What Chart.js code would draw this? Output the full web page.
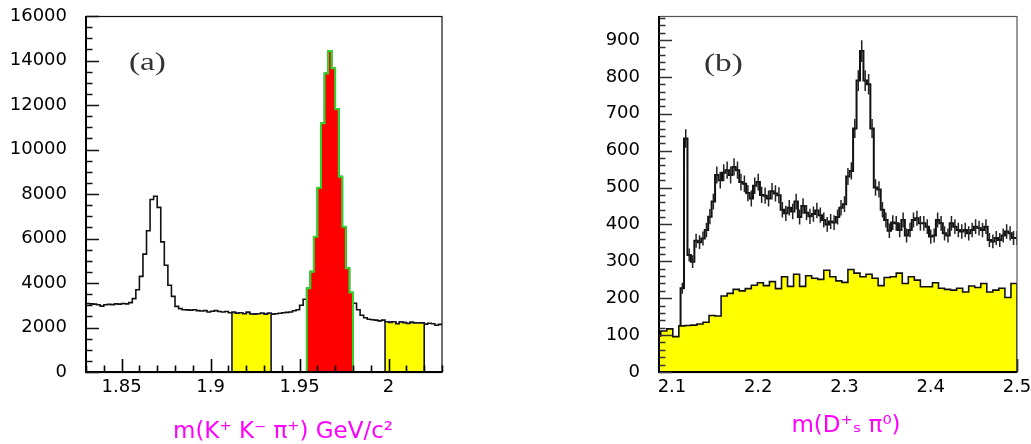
<!DOCTYPE html>
<html>
<head>
<meta charset="utf-8">
<script src="https://cdn.jsdelivr.net/npm/chart.js@4.4.0/dist/chart.umd.min.js"></script>
<style>
  html, body { margin: 0; padding: 0; background: #fff; overflow: hidden; }
  #wrap { position: relative; width: 1031px; height: 444px; overflow: hidden; }
  #wrap canvas { position: absolute; top: 0; }
  #ca { left: 0; }
  #cb { left: 515px; }
</style>
</head>
<body>
<div id="wrap">
  <canvas id="ca" width="515" height="444"></canvas>
  <canvas id="cb" width="540" height="444"></canvas>
</div>
<script>
// ---- panel (a): m(K+K-pi+), 2 MeV bins from 1.83 GeV ----
var aBinStart = 1.83;
var aBinWidth = 0.002;
var aCounts = [
  3080, 3060, 3050, 3020, 2960, 3020, 3040, 3030, 3060, 3050, 3080, 3060, 3120,
  3300, 3700, 4300, 5300, 6350, 7750, 7900, 7400, 5850, 4800, 3900, 3400, 2950, 2850, 2800,
  2790, 2780, 2800, 2760, 2740, 2760, 2700, 2730, 2760, 2720, 2700, 2720, 2660,
  2680, 2640, 2660, 2620, 2680, 2610, 2600, 2620, 2640, 2600, 2640,
  2600, 2620, 2640, 2660, 2680, 2700, 2750, 2800, 3000, 3270,
  3760, 4510, 6080, 8280, 11180, 13420, 14430, 13650, 11820, 8780, 6530, 4660, 3570,
  3090, 2800, 2550, 2440, 2370, 2350, 2330, 2300, 2330,
  2260, 2230, 2260, 2170, 2250, 2220, 2180, 2230, 2210, 2200, 2210,
  2150, 2190, 2170, 2100, 2140
];
// first and last bin index of each selected window
var aSidebandLow = [41, 51];
var aSignal = [62, 74];
var aSidebandHigh = [84, 94];
var aXTicks = [1.85, 1.9, 1.95, 2];
var aXTickLabels = ['1.85', '1.9', '1.95', '2'];
var aYTicks = [0, 2000, 4000, 6000, 8000, 10000, 12000, 14000, 16000];

// ---- panel (b): m(Ds+ pi0) ----
var bDataStart = 2.086;
var bDataWidth = 0.004;
var bData = [
  0, 0, 0, 0, 0, 0,
  227, 633, 317, 299, 356, 352, 362, 385, 421, 462, 534, 520, 540, 547, 534, 556, 547, 515, 510,
  485, 470, 505, 515, 480, 478,
  470, 490, 484, 479, 440, 430, 445, 435, 462, 420, 450, 432, 422, 428, 438, 425, 412, 400, 408,
  405, 420, 445, 455, 530, 545, 660, 790, 870, 790, 780, 660, 500, 495, 440, 412, 383, 405,
  403, 385, 412, 370, 385, 412, 417, 403, 403, 394, 367, 370, 412, 403, 376, 370, 403, 394,
  385, 381, 385, 376, 385, 394, 390, 385, 394, 358, 354, 363, 358, 370, 381, 376, 363, 363
];
var bBkgStart = 2.08;
var bBkgWidth = 0.007;
var bBkg = [
  98, 111, 117, 96, 125, 126, 127, 130, 135, 153, 152, 206, 213, 224, 220, 226, 235, 242, 234,
  245, 226, 258, 232, 265, 232, 261, 254, 251, 276, 258, 247, 243, 278, 268, 258, 265, 254, 234, 256,
  258, 268, 240, 258, 249, 231, 231, 242, 227, 224, 222, 227, 217, 233, 229, 240, 217, 222, 227, 202, 240
];
var bXTicks = [2.1, 2.2, 2.3, 2.4, 2.5];
var bXTickLabels = ['2.1', '2.2', '2.3', '2.4', '2.5'];
var bYTicks = [0, 100, 200, 300, 400, 500, 600, 700, 800, 900];

Chart.defaults.font.family = '"DejaVu Sans", sans-serif';
Chart.defaults.font.size = 18;
Chart.defaults.color = '#000';

// step outline of bins first..last; closed adds the drops to zero at both ends
function histPoints(start, width, counts, first, last, closed) {
  var pts = [];
  if (closed) pts.push({ x: start + width * first, y: 0 });
  for (var i = first; i <= last; i++) pts.push({ x: start + width * i, y: counts[i] });
  pts.push({ x: start + width * (last + 1), y: counts[last] });
  if (closed) pts.push({ x: start + width * (last + 1), y: 0 });
  return pts;
}

function histDataset(points, line, fillColor, lw) {
  return {
    data: points,
    stepped: 'before',
    borderColor: line,
    borderWidth: lw,
    backgroundColor: fillColor || 'rgba(0,0,0,0)',
    fill: fillColor ? 'origin' : false,
    pointRadius: 0,
    pointHoverRadius: 0,
    tension: 0,
    clip: 0
  };
}

function tickSet(scale, step, fn) {
  var i = Math.ceil(scale.min / step - 1e-9);
  for (; i * step <= scale.max + 1e-9; i++) fn(i * step);
}

function isMajor(v, major) {
  var r = v / major;
  return Math.abs(r - Math.round(r)) < 1e-6;
}

function drawXTicks(chart, o) {
  var ctx = chart.ctx, a = chart.chartArea, sx = chart.scales.x;
  ctx.save();
  ctx.strokeStyle = '#000';
  ctx.lineWidth = 1.6;
  ctx.beginPath();
  tickSet(sx, o.xMinor, function (v) {
    var x = Math.round(sx.getPixelForValue(v)) + 0.5;
    var len = isMajor(v, o.xMajor) ? 13 : 6.5;
    ctx.moveTo(x, a.bottom);
    ctx.lineTo(x, a.bottom - len);
  });
  ctx.stroke();
  ctx.restore();
}

var axisFrame = {
  id: 'axisFrame',
  beforeDatasetsDraw: function (chart, args, o) {
    if (o.xTicksUnder) drawXTicks(chart, o);
  },
  afterDatasetsDraw: function (chart, args, o) {
    var ctx = chart.ctx, a = chart.chartArea, sy = chart.scales.y;
    ctx.save();
    ctx.strokeStyle = o.frameColor;
    ctx.lineWidth = 1.2;
    ctx.strokeRect(a.left, a.top + 0.5, a.right - a.left, a.bottom - a.top);
    ctx.strokeStyle = '#000';
    ctx.lineWidth = 2;
    ctx.beginPath();
    ctx.moveTo(a.left, a.top);
    ctx.lineTo(a.left, a.bottom);
    ctx.lineTo(a.right, a.bottom);
    ctx.stroke();
    ctx.lineWidth = 1.6;
    ctx.strokeStyle = o.yTickColor;
    ctx.beginPath();
    tickSet(sy, o.yMinor, function (v) {
      var y = Math.round(sy.getPixelForValue(v)) + 0.5;
      var len = isMajor(v, o.yMajor) ? 13 : 6.5;
      ctx.moveTo(a.left, y);
      ctx.lineTo(a.left + len, y);
    });
    ctx.stroke();
    ctx.restore();
    if (!o.xTicksUnder) drawXTicks(chart, o);
  },
  afterDraw: function (chart, args, o) {
    var ctx = chart.ctx;
    ctx.save();
    // panel tag, stretched serif as in the original
    ctx.font = '26px "Liberation Serif", serif';
    ctx.fillStyle = '#333';
    ctx.textAlign = 'left';
    ctx.textBaseline = 'alphabetic';
    ctx.translate(o.tagX, o.tagY);
    ctx.scale(1.28, 1);
    ctx.fillText(o.tag, 0, 0);
    ctx.restore();
    ctx.save();
    ctx.font = '23px "DejaVu Sans", sans-serif';
    ctx.fillStyle = '#ff00ff';
    ctx.textAlign = 'center';
    ctx.textBaseline = 'alphabetic';
    ctx.fillText(o.title, o.titleX, o.titleY);
    ctx.restore();
  }
};

// sqrt(N) error bars drawn at bin centres right after the data histogram
var errorBars = {
  id: 'errorBars',
  afterDatasetDraw: function (chart, args) {
    var ds = chart.data.datasets[args.index];
    if (!ds.binCounts) return;
    var ctx = chart.ctx, a = chart.chartArea, sx = chart.scales.x, sy = chart.scales.y;
    ctx.save();
    ctx.beginPath();
    ctx.rect(a.left, a.top, a.right - a.left, a.bottom - a.top);
    ctx.clip();
    ctx.strokeStyle = '#222';
    ctx.lineWidth = 1.5;
    ctx.beginPath();
    ds.binCounts.forEach(function (n, i) {
      if (n <= 0) return;
      var e = Math.sqrt(n);
      var x = sx.getPixelForValue(ds.binStart + ds.binWidth * (i + 0.5));
      ctx.moveTo(x, sy.getPixelForValue(n - e));
      ctx.lineTo(x, sy.getPixelForValue(n + e));
    });
    ctx.stroke();
    ctx.restore();
  }
};

function makeScales(xmin, xmax, xTicks, xLabels, ymax, yTicks, yWidth) {
  return {
    x: {
      type: 'linear', min: xmin, max: xmax,
      grid: { display: false, drawTicks: true, tickLength: 5 }, border: { display: false },
      afterBuildTicks: function (s) { s.ticks = xTicks.map(function (v) { return { value: v }; }); },
      afterFit: function (s) { s.height = 72; },
      ticks: { padding: 0, maxRotation: 0, autoSkip: false,
               callback: function (v, i) { return xLabels[i]; } }
    },
    y: {
      type: 'linear', min: 0, max: ymax,
      grid: { display: false, drawTicks: true, tickLength: 19 }, border: { display: false },
      afterBuildTicks: function (s) { s.ticks = yTicks.map(function (v) { return { value: v }; }); },
      afterFit: function (s) { s.width = yWidth; },
      ticks: { padding: 0, autoSkip: false, callback: function (v) { return String(v); } }
    }
  };
}

var blackA = histDataset(histPoints(aBinStart, aBinWidth, aCounts, 0, aCounts.length - 1, false), '#111', null, 1.6);
var lowA = histDataset(histPoints(aBinStart, aBinWidth, aCounts, aSidebandLow[0], aSidebandLow[1], true), '#15153a', '#ffff00', 1.6);
var highA = histDataset(histPoints(aBinStart, aBinWidth, aCounts, aSidebandHigh[0], aSidebandHigh[1], true), '#15153a', '#ffff00', 1.6);
var sigA = histDataset(histPoints(aBinStart, aBinWidth, aCounts, aSignal[0], aSignal[1], true), '#2cd82c', '#ff0000', 2);

new Chart(document.getElementById('ca'), {
  type: 'line',
  data: { datasets: [sigA, lowA, highA, blackA] },
  options: {
    responsive: false, animation: false, events: [],
    layout: { padding: { left: 0, right: 73, top: 16, bottom: 0 } },
    plugins: {
      legend: { display: false }, tooltip: { enabled: false },
      axisFrame: { yMinor: 500, yMajor: 2000, xMinor: 0.01, xMajor: 0.05, xTicksUnder: false,
                   frameColor: '#111', yTickColor: '#111',
                   tag: '(a)', tagX: 129, tagY: 70,
                   title: 'm(K\u207A K\u207B \u03C0\u207A) GeV/c\u00B2', titleX: 283, titleY: 438 }
    },
    scales: makeScales(1.83, 2.03, aXTicks, aXTickLabels, 16000, aYTicks, 86)
  },
  plugins: [axisFrame]
});

var dataB = histDataset(histPoints(bDataStart, bDataWidth, bData, 0, bData.length - 1, false), '#111', null, 2);
dataB.binCounts = bData;
dataB.binStart = bDataStart;
dataB.binWidth = bDataWidth;
var bkgB = histDataset(histPoints(bBkgStart, bBkgWidth, bBkg, 0, bBkg.length - 1, true), '#111', '#ffff00', 1.6);

new Chart(document.getElementById('cb'), {
  type: 'line',
  data: { datasets: [bkgB, dataB] },
  options: {
    responsive: false, animation: false, events: [],
    layout: { padding: { left: 0, right: 38, top: 16, bottom: 0 } },
    plugins: {
      legend: { display: false }, tooltip: { enabled: false },
      axisFrame: { yMinor: 20, yMajor: 100, xMinor: 0.02, xMajor: 0.1, xTicksUnder: true,
                   frameColor: '#555', yTickColor: '#333',
                   tag: '(b)', tagX: 189, tagY: 71,
                   title: 'm(D\u207A\u209B \u03C0\u2070)', titleX: 331, titleY: 432 }
    },
    scales: makeScales(2.085, 2.5, bXTicks, bXTickLabels, 965, bYTicks, 144)
  },
  plugins: [errorBars, axisFrame]
});
</script>
</body>
</html>
